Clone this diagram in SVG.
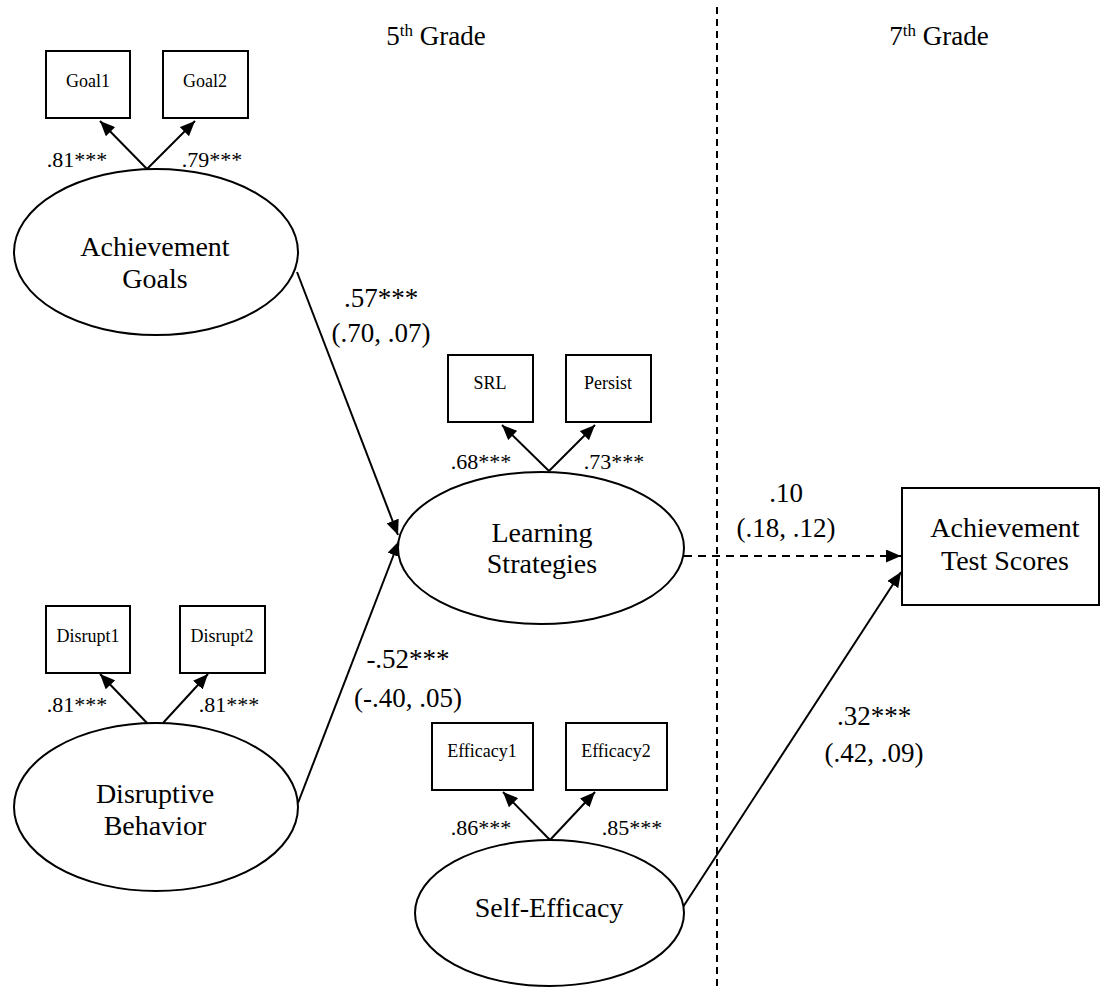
<svg xmlns="http://www.w3.org/2000/svg" width="1101" height="989" viewBox="0 0 1101 989">
<style>
text{font-family:"Liberation Serif","Times New Roman",serif;fill:#000;text-anchor:middle}
.big{font-size:28px}
.small{font-size:18px}
.load{font-size:22px}
.path{font-size:27px}
.grade{font-size:27px}
.sup{font-size:17px}
.shape{fill:#fff;stroke:#000;stroke-width:2}
.conn{fill:none;stroke:#000;stroke-width:2}
.dash{fill:none;stroke:#000;stroke-width:2;stroke-dasharray:8,6}
</style>
<defs>
<marker id="arr" markerUnits="userSpaceOnUse" markerWidth="15" markerHeight="13" refX="15" refY="6.5" orient="auto">
<path d="M0,0 L15,6.5 L0,13 z" fill="#000"/>
</marker>
</defs>
<rect width="1101" height="989" fill="#fff"/>
<g id="grade-labels">
<text class="grade" x="436" y="45">5<tspan class="sup" dy="-9">th</tspan><tspan dy="9"> Grade</tspan></text>
<text class="grade" x="939" y="45">7<tspan class="sup" dy="-9">th</tspan><tspan dy="9"> Grade</tspan></text>
</g>
<g id="divider">
<line x1="717" y1="7" x2="717" y2="989" stroke="#000" stroke-width="2" stroke-dasharray="7,5"/>
</g>
<g id="connectors">
<path class="conn" d="M147,169 L100,121" marker-end="url(#arr)"/>
<path class="conn" d="M147,169 L195,121" marker-end="url(#arr)"/>
<path class="conn" d="M549,471 L502,425" marker-end="url(#arr)"/>
<path class="conn" d="M549,471 L595,425" marker-end="url(#arr)"/>
<path class="conn" d="M147,723 L100,674" marker-end="url(#arr)"/>
<path class="conn" d="M163,723 L208,674" marker-end="url(#arr)"/>
<path class="conn" d="M550,840 L503,792" marker-end="url(#arr)"/>
<path class="conn" d="M550,840 L595,792" marker-end="url(#arr)"/>
<path class="conn" d="M297,272 L398,535" marker-end="url(#arr)"/>
<path class="conn" d="M298,803 L399,541" marker-end="url(#arr)"/>
<path class="dash" d="M684,556 L901,556" marker-end="url(#arr)"/>
<path class="conn" d="M683,907 L901,572" marker-end="url(#arr)"/>
<text class="load" x="77" y="167">.81***</text>
<text class="load" x="212" y="167">.79***</text>
<text class="load" x="481" y="469">.68***</text>
<text class="load" x="614" y="469">.73***</text>
<text class="load" x="77" y="712">.81***</text>
<text class="load" x="229" y="712">.81***</text>
<text class="load" x="481" y="835">.86***</text>
<text class="load" x="632" y="835">.85***</text>
<text class="path" x="381" y="307">.57***</text>
<text class="path" x="381" y="342">(.70, .07)</text>
<text class="path" x="408" y="668">-.52***</text>
<text class="path" x="408" y="707">(-.40, .05)</text>
<text class="path" x="786" y="502">.10</text>
<text class="path" x="786" y="537">(.18, .12)</text>
<text class="path" x="874" y="725">.32***</text>
<text class="path" x="874" y="762">(.42, .09)</text>
</g>
<g id="goal1"><rect class="shape" x="46" y="51" width="84" height="67"/><text class="small" x="88" y="87">Goal1</text></g>
<g id="goal2"><rect class="shape" x="163" y="51" width="85" height="67"/><text class="small" x="205" y="87">Goal2</text></g>
<g id="achievement-goals"><ellipse class="shape" cx="156" cy="252" rx="142" ry="83"/><text class="big" x="155" y="256">Achievement</text><text class="big" x="155" y="288">Goals</text></g>
<g id="srl"><rect class="shape" x="448" y="355" width="85" height="67"/><text class="small" x="490" y="389">SRL</text></g>
<g id="persist"><rect class="shape" x="566" y="355" width="85" height="67"/><text class="small" x="608" y="389">Persist</text></g>
<g id="learning-strategies"><ellipse class="shape" cx="541" cy="548" rx="143" ry="76"/><text class="big" x="542" y="542">Learning</text><text class="big" x="542" y="573">Strategies</text></g>
<g id="disrupt1"><rect class="shape" x="46" y="606" width="84" height="67"/><text class="small" x="88" y="642">Disrupt1</text></g>
<g id="disrupt2"><rect class="shape" x="180" y="606" width="85" height="67"/><text class="small" x="222" y="642">Disrupt2</text></g>
<g id="disruptive-behavior"><ellipse class="shape" cx="156" cy="807" rx="142" ry="84"/><text class="big" x="155" y="803">Disruptive</text><text class="big" x="155" y="835">Behavior</text></g>
<g id="efficacy1"><rect class="shape" x="432" y="723" width="101" height="67"/><text class="small" x="482" y="757">Efficacy1</text></g>
<g id="efficacy2"><rect class="shape" x="566" y="723" width="101" height="67"/><text class="small" x="616" y="757">Efficacy2</text></g>
<g id="self-efficacy"><ellipse class="shape" cx="549.5" cy="913" rx="134.5" ry="73"/><text class="big" x="549" y="917">Self-Efficacy</text></g>
<g id="achievement-test-scores"><rect class="shape" x="902" y="488" width="197" height="117"/><text class="big" x="1005" y="537">Achievement</text><text class="big" x="1005" y="570">Test Scores</text></g>
</svg>
